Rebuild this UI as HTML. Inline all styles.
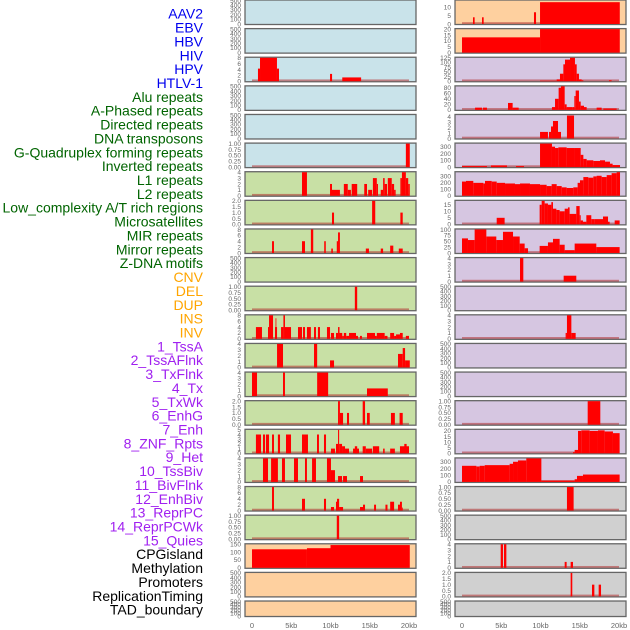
<!DOCTYPE html>
<html><head><meta charset="utf-8"><style>
html,body{margin:0;padding:0;background:#fff;width:630px;height:630px;overflow:hidden}
svg{display:block}
</style></head><body>
<svg id="chart" width="630" height="630" xmlns="http://www.w3.org/2000/svg" font-family="Liberation Sans, sans-serif"></svg>
<script>
// ---- data ----
const labels = ["AAV2","EBV","HBV","HIV","HPV","HTLV-1","Alu repeats","A-Phased repeats","Directed repeats","DNA transposons","G-Quadruplex forming repeats","Inverted repeats","L1 repeats","L2 repeats","Low_complexity A/T rich regions","Microsatellites","MIR repeats","Mirror repeats","Z-DNA motifs","CNV","DEL","DUP","INS","INV","1_TssA","2_TssAFlnk","3_TxFlnk","4_Tx","5_TxWk","6_EnhG","7_Enh","8_ZNF_Rpts","9_Het","10_TssBiv","11_BivFlnk","12_EnhBiv","13_ReprPC","14_ReprPCWk","15_Quies","CPGisland","Methylation","Promoters","ReplicationTiming","TAD_boundary"];
const labelGroups = ["v","v","v","v","v","v","r","r","r","r","r","r","r","r","r","r","r","r","r","s","s","s","s","s","c","c","c","c","c","c","c","c","c","c","c","c","c","c","c","o","o","o","o","o"];
const xTicks = [0,5,10,15,20];
const xTickLabels = ["0","5kb","10kb","15kb","20kb"];
const T500 = [0,100,200,300,400,500];
const T1 = [0,0.25,0.5,0.75,1];
const T1L = ["0.00","0.25","0.50","0.75","1.00"];
const T2 = [0,0.5,1,1.5,2];
const T2L = ["0.0","0.5","1.0","1.5","2.0"];
const leftBg = ["b","b","b","b","b","b","g","g","g","g","g","g","g","g","g","g","g","g","g","o","o","o"];
const rightBg = ["o","o","p","p","p","p","p","p","p","p","p","p","p","p","p","p","p","k","k","k","k","k"];
const leftMax = [500,500,8,500,500,1,4,2,8,500,1,8,4,4,2,5,4,8,1,150,500,500];
const rightMax = [14,20,125,85,4.3,345,365,18,100,4,500,4,500,500,1,21,350,1,500,4,2,500];
const leftTicks = [T500,T500,[0,2,4,6,8],T500,T500,T1,[0,1,2,3,4],T2,[0,2,4,6,8],T500,T1,[0,2,4,6,8],[0,1,2,3,4],[0,1,2,3,4],T2,[0,1,2,3,4,5],[0,1,2,3,4],[0,2,4,6,8],T1,[0,50,100,150],T500,T500];
const rightTicks = [[0,5,10],[0,5,10,15,20],[0,25,50,75,100,125],[0,20,40,60,80],[0,1,2,3,4],[0,100,200,300],[0,100,200,300],[0,5,10,15],[0,25,50,75,100],[0,1,2,3,4],T500,[0,1,2,3,4],T500,T500,T1,[0,5,10,15,20],[0,100,200,300],T1,T500,[0,1,2,3,4],T2,T500];
const leftBars = [
 [],[],
 [[0.76,1.02,4.3],[1.02,3.18,8],[3.18,3.44,4.3],[9.94,10.2,2.5],[11.5,13.9,1.3]],
 [],[],
 [[19.6,20.1,1]],
 [[6.37,7.0,4],[9.94,10.19,2],[10.19,11.2,1],[11.7,12.2,2],[12.2,12.6,1],[12.7,13.4,2],[14.3,14.65,2],[14.8,15.3,1],[15.4,15.9,3],[15.9,16.05,2],[16.4,16.7,1],[16.7,16.9,3],[16.9,17.2,2],[17.3,17.8,3],[17.8,18.1,2],[18.1,18.3,1],[18.9,19.1,3],[19.1,19.6,4],[19.6,19.9,3],[19.9,20.1,2]],
 [[10.19,10.45,1],[15.3,15.7,2],[18.9,19.2,1]],
 [[2.55,2.8,4],[6.37,6.75,4],[7.5,7.8,8],[9.2,9.4,4],[10.1,10.3,1.5],[10.8,10.96,4],[10.96,11.2,7],[14.5,14.9,1.5],[16.4,16.7,1.5],[17.6,18.0,2.5],[18.7,19.2,1.5]],
 [],
 [[13.1,13.4,1]],
 [[0.5,1.27,4],[2.04,2.17,4],[2.17,2.68,8],[2.93,3.19,4],[3.0,3.1,7],[3.7,4.0,4],[4.0,4.2,8],[4.2,4.97,4],[5.86,6.37,4],[6.5,6.75,4],[7.0,7.5,4],[7.9,8.15,4],[8.4,8.66,4],[9.55,9.94,4],[10.06,10.45,2],[10.7,10.96,2],[10.96,11.15,4],[11.15,11.5,2],[11.5,11.7,1],[11.7,12.0,2],[12.0,12.36,1],[12.36,13.25,2],[13.25,13.5,1],[13.76,14.0,1],[14.65,15.67,2],[15.67,15.9,1],[15.9,16.9,2],[16.9,17.26,1],[17.6,18.1,2],[18.1,18.35,1],[18.35,18.85,1.5],[18.85,19.2,2],[19.6,20.0,1]],
 [[3.19,3.95,4],[7.9,8.3,4],[9.94,10.45,1.2],[18.6,19.2,2.3],[19.2,19.5,3.3],[19.5,20.1,1.2]],
 [[0,0.64,4],[3.95,4.2,4],[8.3,9.7,4],[14.65,17.3,1.3]],
 [[10.96,11.2,2],[11.2,11.6,1],[12.1,12.36,1],[14.1,14.4,2],[14.65,15.0,1],[17.7,18.2,1],[18.8,19.2,1]],
 [[0.5,1.15,4],[1.4,1.66,4],[1.78,2.17,4],[2.55,2.8,4],[3.3,3.57,4],[4.33,4.97,4],[6.37,7.13,4],[8.28,8.53,4],[9.17,9.43,4],[10.06,10.57,1],[10.7,10.96,2],[10.96,11.1,5],[11.1,11.47,2],[11.47,11.85,1.5],[11.85,12.36,1],[12.87,13.63,1],[13.1,13.4,1.5],[14.1,14.5,1.5],[14.5,15.3,1],[15.4,16.2,1.5],[16.7,16.9,1],[17.6,18.2,1],[18.85,20.0,1.5],[19.4,19.7,2]],
 [[1.4,2.04,4],[2.43,3.3,4],[3.82,4.2,4],[5.35,5.86,4],[6.75,7.0,4],[7.65,8.15,4],[9.55,10.06,4],[10.06,10.57,2],[10.96,11.47,1],[11.6,12.1,1],[13.76,14.14,1]],
 [[2.55,2.8,8],[6.37,6.75,4],[9.17,9.43,4],[10.06,10.45,1.2],[10.7,10.83,3],[10.83,11.1,4],[11.1,11.6,1.2],[13.76,14.14,1.2],[14.14,14.4,2],[15.55,15.8,2],[17.0,17.26,2],[17.6,18.1,3],[18.6,18.85,2],[18.85,19.1,3],[19.1,19.2,1]],
 [[10.8,11.1,1]],
 [[0,7,118],[7,10,125],[10,20.1,145]],
 [],[]
];
const rightBars = [
 [[1.4,1.61,4],[2.55,2.76,4],[9.17,9.43,7],[9.94,20.1,13]],
 [[0,9.94,13],[9.94,20.1,20]],
 [[9.94,12.06,3],[12.06,12.48,10],[12.48,12.91,40],[12.91,13.12,90],[13.12,13.76,115],[13.76,14.39,125],[14.39,14.61,90],[14.61,14.9,40],[14.9,15.24,10],[15.24,15.46,5],[18.72,19.06,5]],
 [[1.66,2.55,8],[2.67,3.18,8],[5.86,6.45,25],[6.45,7.22,8],[11.46,11.85,10],[11.85,12.31,40],[12.31,12.61,80],[12.61,13.08,85],[13.08,13.33,20],[13.33,14.05,10],[14.05,14.31,10],[14.31,14.48,50],[14.48,14.9,70],[14.9,15.12,30],[15.12,15.54,15],[15.54,15.88,10],[17.15,17.79,8],[18.0,19.7,5]],
 [[9.94,10.95,1.2],[11.08,11.34,1.2],[11.34,11.59,2.2],[11.59,12.23,3.2],[12.23,12.61,1.2],[13.37,14.27,4.2]],
 [[0,3.18,15],[3.69,5.73,25],[6.88,7.9,15],[9.94,11.46,345],[11.46,11.85,300],[11.85,12.27,280],[12.27,13.33,290],[13.33,14.39,280],[14.39,15.12,280],[15.12,15.46,180],[15.46,15.88,120],[15.88,16.73,100],[16.73,17.58,90],[17.58,18.22,100],[18.22,18.85,80],[18.85,19.19,50],[19.19,20.13,30]],
 [[0,0.51,220],[0.51,1.44,230],[1.44,2.72,200],[2.72,2.93,190],[2.93,3.78,230],[3.78,4.42,220],[4.42,5.48,200],[5.48,6.75,190],[6.75,7.39,180],[7.39,8.66,190],[8.66,9.94,180],[9.94,10.78,170],[10.78,11.42,150],[11.42,12.06,180],[12.06,12.7,150],[12.7,13.33,130],[13.33,14.18,120],[14.18,14.73,130],[14.73,15.03,200],[15.03,15.46,240],[15.46,16.09,290],[16.09,16.73,280],[16.73,17.15,300],[17.15,17.79,310],[17.79,18.43,290],[18.43,19.06,320],[19.06,19.7,350],[19.7,20.13,365]],
 [[4.42,5.43,5],[9.89,10.15,15],[10.15,10.53,18],[10.53,10.95,16],[10.95,11.38,15],[11.38,11.59,17],[11.59,12.02,12],[12.02,12.44,11],[12.44,13.08,10],[13.08,13.5,12],[13.5,13.71,13],[13.71,14.56,8],[14.56,14.99,14],[14.99,15.12,7],[15.12,15.41,3],[15.41,15.84,2],[15.84,16.47,7],[16.47,16.9,4],[16.9,17.96,4],[17.96,18.6,6],[18.6,18.81,2],[19.45,20.08,3]],
 [[0,0.76,62],[0.76,1.61,55],[1.61,3.1,100],[3.1,4.37,70],[4.37,5.22,55],[5.22,6.5,90],[6.5,7.35,70],[7.35,7.98,40],[7.98,8.41,20],[9.89,10.95,30],[10.95,11.59,45],[11.59,12.44,60],[12.44,13.08,35],[13.08,14.35,12],[14.35,17.11,40],[17.11,20.08,25]],
 [[7.39,7.81,4],[12.95,14.56,1]],
 [],
 [[13.2,13.37,1],[13.37,13.93,4],[13.93,14.48,1]],
 [],[],
 [[16.01,17.62,1]],
 [[14.14,14.35,1],[14.35,14.78,3],[14.78,15.2,20],[15.2,16.26,20.5],[16.26,17.32,20],[17.32,18.17,20.5],[18.17,19.23,19.5],[19.23,20.08,18]],
 [[0,1.83,240],[1.83,2.25,230],[2.25,2.89,240],[2.89,6.07,250],[6.07,6.5,270],[6.5,7.13,300],[7.13,8.19,320],[8.19,10.11,350],[10.11,14.35,20],[14.35,14.65,40],[14.65,15.41,90],[15.41,20.08,110]],
 [[13.37,14.22,1]],
 [],
 [[4.93,5.22,4],[5.35,5.65,4],[13.08,13.33,1],[13.84,14.14,1]],
 [[13.84,14.05,2],[16.56,16.86,1],[17.41,17.71,1]],
 []
];
// ---- drawing ----
const NS = "http://www.w3.org/2000/svg";
const svg = document.getElementById("chart");
const bgColors = {b:"#c9e3ea",g:"#c8e0a5",o:"#fed09f",p:"#d6c6e1",k:"#d0d0d0"};
const labelColors = {v:"#0000ee",r:"#006400",s:"#ffa500",c:"#a020f0",o:"#000000"};
function mk(tag, attrs, parent){const e=document.createElementNS(NS,tag);for(const k in attrs)e.setAttribute(k,attrs[k]);(parent||svg).appendChild(e);return e;}
function fmt(v){return String(v);}
labels.forEach((t,i)=>{
  const e=mk("text",{x:203,y:15+i*13.86,"text-anchor":"end","dominant-baseline":"middle","font-size":"14",fill:labelColors[labelGroups[i]]});
  e.textContent=t;
  
  
});
function drawCol(x0, bgs, maxes, ticks, bars, side){
  const xs = k => x0+7 + k/20*157;
  for(let i=0;i<bgs.length;i++){
    const top = i*28.62, h = (i===bgs.length-1)?15.5:24.5;
    const g = mk("g",{});
    
    
    const r = mk("rect",{x:x0,y:top,width:171,height:h,fill:bgColors[bgs[i]],stroke:"#666","stroke-width":1.3},g);
    
    
    const ys = v => top+h-0.5 - v/maxes[i]*(h-1);
    const tl = ticks[i];
    tl.forEach(v=>{
      const t = mk("text",{x:x0-4,y:ys(v)+2.3,"text-anchor":"end","font-size":"6.5",fill:"#666"},g);
      t.textContent = (tl===T1)?T1L[T1.indexOf(v)]:(tl===T2)?T2L[T2.indexOf(v)]:fmt(v);
      
      
    });
    if(bars[i].length){
      const bl = mk("rect",{x:xs(0),y:top+h-2.3,width:xs(20)-xs(0),height:1.8,fill:"#b03030","fill-opacity":0.55},g);
      
      
    }
    bars[i].forEach(b=>{
      const v=Math.min(b[2],maxes[i]);
      const y=ys(v);
      const br = mk("rect",{x:xs(b[0]),y:y,width:Math.max(0.8,xs(b[1])-xs(b[0])),height:top+h-0.5-y,fill:"#ff0000"},g);
      
      
    });
  }
  xTicks.forEach((k,j)=>{
    const t=mk("text",{x:xs(k),y:628,"text-anchor":"middle","font-size":"7.5",fill:"#666"});
    t.textContent=xTickLabels[j];
    
    
  });
}
drawCol(245, leftBg, leftMax, leftTicks, leftBars, "left");
drawCol(455, rightBg, rightMax, rightTicks, rightBars, "right");
</script>
</body></html>
